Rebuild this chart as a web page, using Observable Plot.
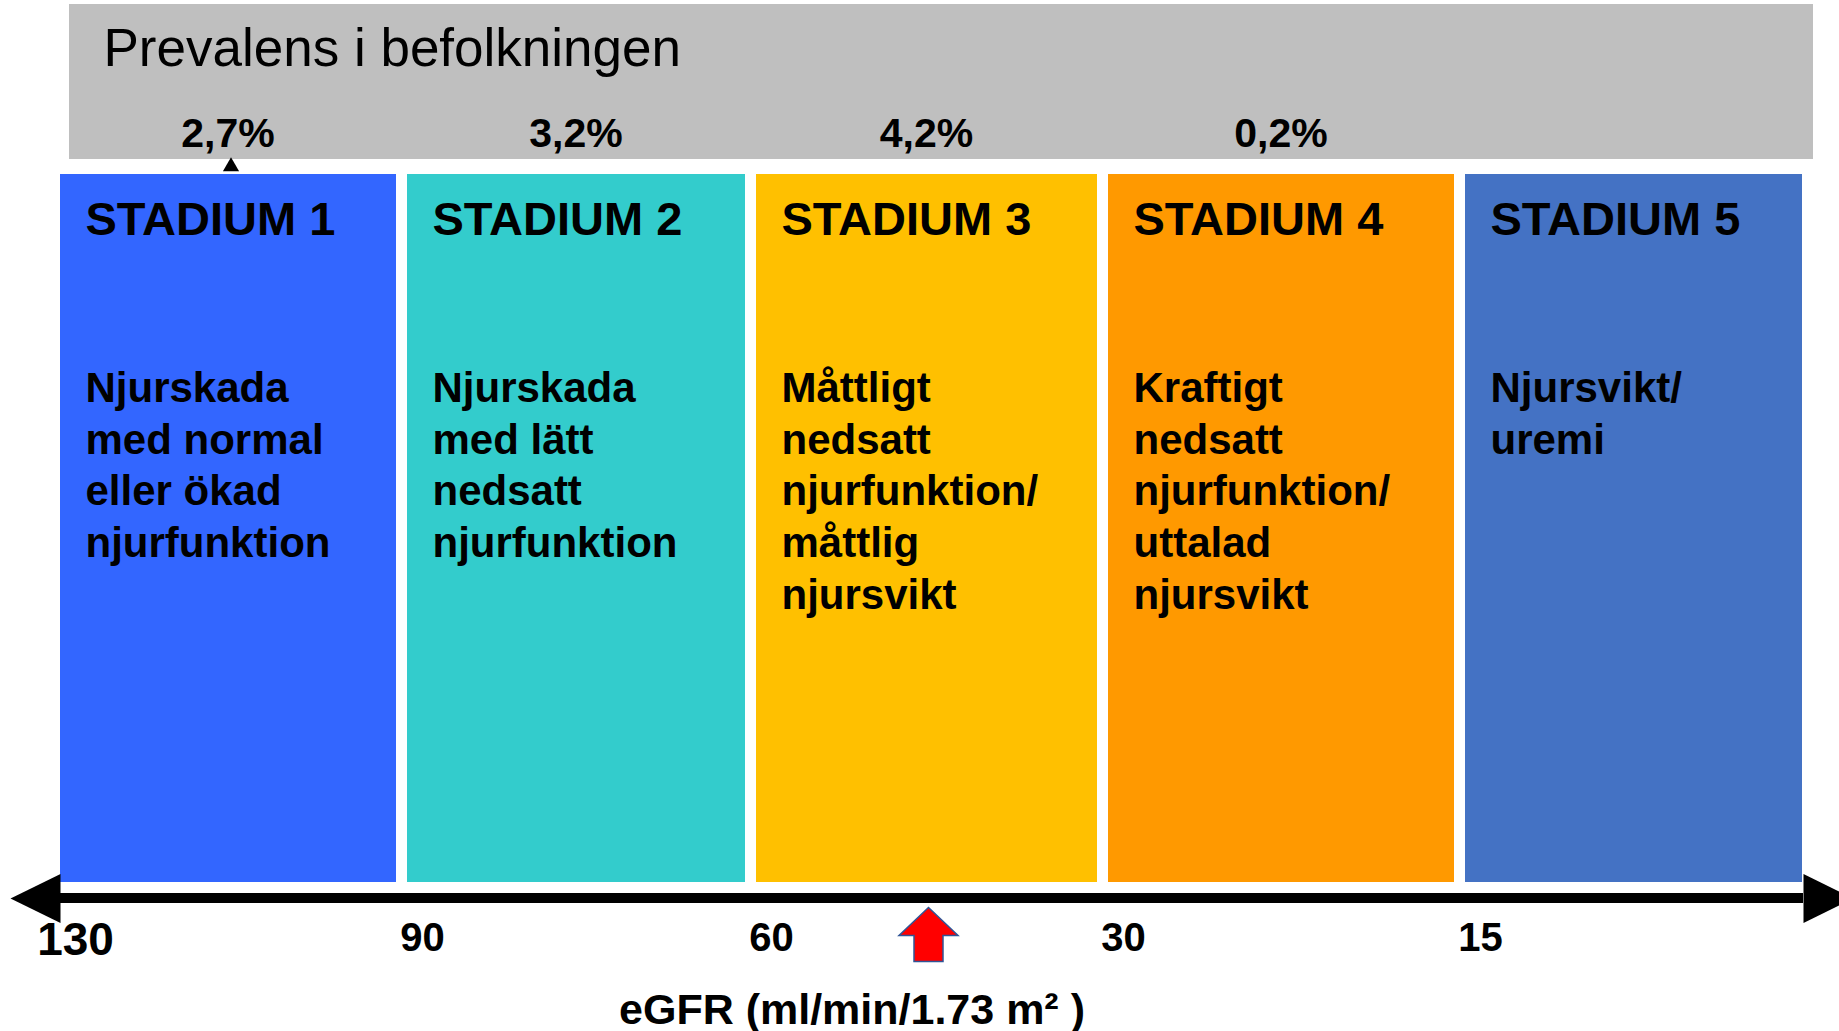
<!DOCTYPE html>
<html><head><meta charset="utf-8">
<script src="https://cdn.jsdelivr.net/npm/d3@7"></script>
<script src="https://cdn.jsdelivr.net/npm/@observablehq/plot@0.6"></script>
<style>html,body{margin:0;padding:0;background:#fff;} #chart svg{display:block}</style>
</head><body><div id="chart"></div>
<script>
// ---- data ----
const stages = ["STADIUM 1", "STADIUM 2", "STADIUM 3", "STADIUM 4", "STADIUM 5"];
const egfrUpper = [130, 90, 60, 30, 15];
const egfrLower = [90, 60, 30, 15, 0];
const descriptions = [
  "Njurskada\nmed normal\neller ökad\nnjurfunktion",
  "Njurskada\nmed lätt\nnedsatt\nnjurfunktion",
  "Måttligt\nnedsatt\nnjurfunktion/\nmåttlig\nnjursvikt",
  "Kraftigt\nnedsatt\nnjurfunktion/\nuttalad\nnjursvikt",
  "Njursvikt/\nuremi"
];
const prevalence = [2.7, 3.2, 4.2, 0.2, null];
const tickValues = [130, 90, 60, 30, 15];
const markerEGFR = [45];
const headerTitle = "Prevalens i befolkningen";
const axisTitle = "eGFR (ml/min/1.73 m² )";

// ---- build ----
const table = stages.map((s, i) => ({
  stage: s, upper: egfrUpper[i], lower: egfrLower[i], desc: descriptions[i], prev: prevalence[i]
}));
const axisExtent = [{from: egfrUpper[0], to: egfrLower[egfrLower.length - 1]}];
const fmtPct = v => v.toFixed(1).replace(".", ",") + "%";
const font = "'Liberation Sans', Arial, Helvetica, sans-serif";

const redArrow = {draw(ctx) {
  ctx.moveTo(0, 0); ctx.lineTo(29.5, 28); ctx.lineTo(14.5, 28); ctx.lineTo(14.5, 54);
  ctx.lineTo(-14.5, 54); ctx.lineTo(-14.5, 28); ctx.lineTo(-29.5, 28); ctx.closePath();
}};
const headLeft = {draw(ctx) { ctx.moveTo(0, -24.5); ctx.lineTo(-50, 0); ctx.lineTo(0, 24.5); ctx.closePath(); }};
const headRight = {draw(ctx) { ctx.moveTo(0, -24.5); ctx.lineTo(50, 0); ctx.lineTo(0, 24.5); ctx.closePath(); }};

const chart = Plot.plot({
  width: 1839, height: 1031,
  marginTop: 174, marginBottom: 149, marginLeft: 0, marginRight: 0,
  style: {fontFamily: font, background: "#fff", color: "#000"},
  x: {type: "linear", domain: [130, 90, 60, 30, 15, 0], range: [60, 407, 756, 1108, 1465, 1813], axis: null},
  color: {domain: stages, range: ["#3366ff", "#33cccc", "#ffc000", "#ff9900", "#4472c4"]},
  marks: [
    // header band
    Plot.rect(axisExtent, {x1: "from", x2: "to", fill: "#bfbfbf", insetLeft: 9, insetTop: -170, insetBottom: 723}),
    Plot.text([headerTitle], {x: () => axisExtent[0].from, text: d => d, frameAnchor: "top", textAnchor: "start",
      lineAnchor: "bottom", dx: 43, dy: -109, fontSize: 53, fontFamily: font, fill: "#000"}),
    Plot.text(table.filter(d => d.prev != null), {x: d => (d.upper + d.lower) / 2, text: d => fmtPct(d.prev),
      frameAnchor: "top", lineAnchor: "bottom", dx: -6, dy: -28, fontSize: 41, fontWeight: "bold", fontFamily: font, fill: "#000"}),
    Plot.dot(table.slice(0, 1), {x: d => (d.upper + d.lower) / 2, symbol: "triangle", r: 6, fill: "#000",
      frameAnchor: "top", dx: -3, dy: -8}),
    // stages
    Plot.rect(table, {x1: "upper", x2: "lower", fill: "stage", insetRight: 11}),
    Plot.text(table, {x: "upper", text: "stage", frameAnchor: "top", textAnchor: "start", lineAnchor: "bottom",
      dx: 25, dy: 60, fontSize: 47, fontWeight: "bold", fontFamily: font, fill: "#000"}),
    Plot.text(table, {x: "upper", text: "desc", frameAnchor: "top", textAnchor: "start", lineAnchor: "top",
      lineHeight: 1.23, dx: 25, dy: 191, fontSize: 42, fontWeight: "bold", fontFamily: font, fill: "#000"}),
    // axis arrow
    Plot.rect(axisExtent, {x1: "from", x2: "to", fill: "#000", insetRight: 10, insetTop: 719, insetBottom: -21}),
    Plot.dot(axisExtent, {x: "from", symbol: headLeft, fill: "#000", frameAnchor: "bottom", dy: 16}),
    Plot.dot(axisExtent, {x: "to", symbol: headRight, fill: "#000", frameAnchor: "bottom", dx: -10, dy: 16}),
    // tick labels
    Plot.text(tickValues, {x: d => d, text: d => String(d), frameAnchor: "bottom", lineAnchor: "top",
      dx: 15, dy: 40, fontSize: d => (d === 130 ? 46 : 40), fontWeight: "bold", fontFamily: font, fill: "#000"}),
    // marker arrow
    Plot.dot(markerEGFR, {x: d => d, symbol: redArrow, fill: "#ff0000", stroke: "#2f5597", strokeWidth: 1.5,
      frameAnchor: "bottom", dx: -4, dy: 25}),
    // axis title
    Plot.text([axisTitle], {text: d => d, frameAnchor: "bottom", lineAnchor: "bottom", dx: -68, dy: 141,
      fontSize: 43, fontWeight: "bold", fontFamily: font, fill: "#000"})
  ]
});
document.getElementById("chart").appendChild(chart);
</script>
</body></html>
